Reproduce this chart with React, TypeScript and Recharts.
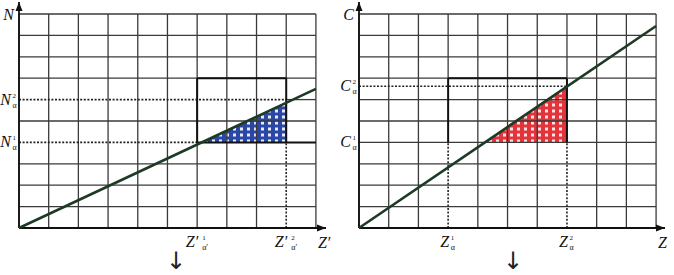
import { ComposedChart, Line, Area, XAxis, YAxis, ReferenceLine } from 'recharts';

// grid cells, 10 x 10 in both panels
const gridAll = [0, 1, 2, 3, 4, 5, 6, 7, 8, 9, 10];

// left panel: N against Z'
const leftLine = [{ z: 0, v: 0 }, { z: 10, v: 6.5 }];
const leftWedge = [{ z: 6.15, v: 4 }, { z: 9, v: 5.85 }];
const leftZ = [6, 9];          // Z'1, Z'2
const leftN = [4, 6];          // N1, N2
const leftBoxTop = 7;
const leftGridX = [0, 1, 2, 3, 4, 5, 6, 7, 8, 10];
const leftGridY = [0, 1, 2, 3, 5, 7, 8, 9, 10];
const leftXEnd = 10.34;

// right panel: C against Z
const rightLine = [{ z: 0, v: 0 }, { z: 10, v: 9.44 }];
const rightWedge = [{ z: 4.24, v: 4 }, { z: 7, v: 6.6 }];
const rightZ = [3, 7];         // Z1, Z2
const rightC = [4, 6.62];      // C1, C2
const rightBoxTop = 7;
const rightGridX = [0, 1, 2, 4, 5, 6, 8, 9, 10];
const rightXEnd = 10.3;

// axis arrows run a bit past the last grid line
const yTop = 10.56;
const gridMax = 10;

const FONT = '"Liberation Serif", "DejaVu Serif", serif';
const GRID = '#3a3a3a';
const BOLD = '#111';
const LINE = '#1d3a25';

const Sym = ({ x, y, main, sup, sub, anchor, size = 16, gap = 1.5 }: any) => {
  const mx = anchor === 'end' ? x - 8 : x + 1;
  return (
    <g fontFamily={FONT} fill="#111">
      <text x={mx} y={y} fontSize={size} fontStyle="italic" textAnchor="end">{main}</text>
      {sup && <text x={mx + gap} y={y - 7} fontSize={7}>{sup}</text>}
      {sub && <text x={mx + gap} y={y + 3} fontSize={8}>{sub}</text>}
    </g>
  );
};

const makeYTick = (labels: Record<string, any>) => (props: any) => {
  const { x, y, payload } = props;
  const l = labels[String(payload.value)];
  if (!l) return <g />;
  if (!l.sup) {
    return <text x={x - 5} y={y + 6} fontFamily={FONT} fontSize={16} fontStyle="italic" textAnchor="end" fill="#111">{l.main}</text>;
  }
  return <Sym x={x} y={y + 5} main={l.main} sup={l.sup} sub={l.sub} anchor="end" />;
};

const makeXTick = (labels: Record<string, any>) => (props: any) => {
  const { x, y, payload } = props;
  const l = labels[String(payload.value)];
  if (!l) return <g />;
  if (!l.sup) {
    return <text x={x + 2} y={y + 20} fontFamily={FONT} fontSize={16} fontStyle="italic" fill="#111">{l.main}</text>;
  }
  return <Sym x={x} y={y + 19} main={l.main} sup={l.sup} sub={l.sub} anchor="middle" gap={l.gap ?? 1.5} />;
};

// arrow head drawn as the end dot of an axis series
const makeHead = (dir: 'right' | 'up') => (p: any) => {
  const { cx, cy, index } = p;
  if (index !== 1 || cx == null || cy == null) return <g key={`h${index}`} />;
  const pts = dir === 'right'
    ? `${cx},${cy} ${cx - 9},${cy - 3.5} ${cx - 9},${cy + 3.5}`
    : `${cx},${cy} ${cx - 3.5},${cy + 9} ${cx + 3.5},${cy + 9}`;
  return <polygon key={`h${index}`} points={pts} fill="#111" />;
};

const Panel = ({ width, plotRight, lineData, wedge, gridX, gridY, xTicks, yTicks, xLabels, yLabels, patternId, refs, xEnd }: any) => (
  <ComposedChart width={width} height={275} margin={{ top: 2, right: width - plotRight, bottom: 17, left: 0 }}>
    <defs>
      <pattern id="bluePat" width="7" height="6" patternUnits="userSpaceOnUse">
        <rect width="7" height="6" fill="#2b47a6" />
        <rect x="2" y="1.5" width="3" height="3" fill="#e8ecf6" />
      </pattern>
      <pattern id="redPat" width="7" height="6" patternUnits="userSpaceOnUse">
        <rect width="7" height="6" fill="#e3343c" />
        <rect x="2" y="1.5" width="3" height="3" fill="#fbe3e3" />
      </pattern>
    </defs>
    <XAxis type="number" dataKey="z" domain={[0, xEnd]} ticks={xTicks} height={30} axisLine={false} tickLine={false}
      tickSize={0} tickMargin={0} interval={0} tick={makeXTick(xLabels)} />
    <YAxis type="number" dataKey="v" domain={[0, yTop]} ticks={yTicks} width={19} axisLine={false} tickLine={false}
      tickSize={0} tickMargin={0} interval={0} tick={makeYTick(yLabels)} />
    {/* grid, stopping at the last cell rather than the plot edge */}
    {gridX.map((g: number) => (
      <ReferenceLine key={`gx${g}`} segment={[{ x: g, y: 0 }, { x: g, y: gridMax }]} stroke={GRID} strokeWidth={1.3} ifOverflow="visible" />
    ))}
    {gridY.map((g: number) => (
      <ReferenceLine key={`gy${g}`} segment={[{ x: 0, y: g }, { x: gridMax, y: g }]} stroke={GRID} strokeWidth={1.3} ifOverflow="visible" />
    ))}
    <Area data={wedge} dataKey="v" type="linear" baseValue={4} fill={`url(#${patternId})`} fillOpacity={1} stroke="none" isAnimationActive={false} />
    {refs.map((r: any, i: number) => (
      <ReferenceLine key={i} segment={r.seg} stroke={r.dash ? '#222' : r.bold ? BOLD : GRID}
        strokeWidth={r.bold ? 2 : r.dash ? 1.6 : 1.3} strokeDasharray={r.dash ? '2 1.6' : undefined} ifOverflow="visible" />
    ))}
    <Line data={[{ z: 0, v: 0 }, { z: xEnd, v: 0 }]} dataKey="v" type="linear" stroke="#111" strokeWidth={1.8}
      dot={makeHead('right')} activeDot={false} isAnimationActive={false} />
    <Line data={[{ z: 0, v: 0 }, { z: 0, v: yTop }]} dataKey="v" type="linear" stroke="#111" strokeWidth={1.8}
      dot={makeHead('up')} activeDot={false} isAnimationActive={false} />
    <Line data={lineData} dataKey="v" type="linear" stroke={LINE} strokeWidth={2.6} dot={false} activeDot={false} isAnimationActive={false} />
  </ComposedChart>
);

const leftRefs = [
  { seg: [{ x: 0, y: leftN[0] }, { x: leftZ[0], y: leftN[0] }], dash: true },
  { seg: [{ x: leftZ[0], y: leftN[0] }, { x: 10, y: leftN[0] }], bold: true },
  { seg: [{ x: 0, y: leftN[1] }, { x: leftZ[1], y: leftN[1] }], dash: true },
  { seg: [{ x: leftZ[1], y: leftN[1] }, { x: 10, y: leftN[1] }] },
  { seg: [{ x: leftZ[1], y: 0 }, { x: leftZ[1], y: leftN[0] }], dash: true },
  { seg: [{ x: leftZ[1], y: leftBoxTop }, { x: leftZ[1], y: 10 }] },
  { seg: [{ x: leftZ[0], y: leftN[0] }, { x: leftZ[0], y: leftBoxTop }], bold: true },
  { seg: [{ x: leftZ[1], y: leftN[0] }, { x: leftZ[1], y: leftBoxTop }], bold: true },
  { seg: [{ x: leftZ[0], y: leftBoxTop }, { x: leftZ[1], y: leftBoxTop }], bold: true },
];

const rightRefs = [
  { seg: [{ x: 0, y: rightC[1] }, { x: rightZ[1], y: rightC[1] }], dash: true },
  { seg: [{ x: rightZ[0], y: 0 }, { x: rightZ[0], y: rightC[0] }], dash: true },
  { seg: [{ x: rightZ[1], y: 0 }, { x: rightZ[1], y: rightC[0] }], dash: true },
  { seg: [{ x: rightZ[0], y: rightBoxTop }, { x: rightZ[0], y: 10 }] },
  { seg: [{ x: rightZ[1], y: rightBoxTop }, { x: rightZ[1], y: 10 }] },
  { seg: [{ x: rightZ[0], y: rightC[0] }, { x: rightZ[0], y: rightBoxTop }], bold: true },
  { seg: [{ x: rightZ[1], y: rightC[0] }, { x: rightZ[1], y: rightBoxTop }], bold: true },
  { seg: [{ x: rightZ[0], y: rightBoxTop }, { x: rightZ[1], y: rightBoxTop }], bold: true },
];

const leftXLabels = { '6': { main: "Z′", sup: '1', sub: 'α′', gap: 4 }, '9': { main: "Z′", sup: '2', sub: 'α′', gap: 4 }, '10': { main: "Z′" } };
const leftYLabels = { '4': { main: 'N', sup: '1', sub: 'α' }, '6': { main: 'N', sup: '2', sub: 'α' }, '10': { main: 'N' } };
const rightXLabels = { '3': { main: 'Z', sup: '1', sub: 'α' }, '7': { main: 'Z', sup: '2', sub: 'α' }, '10': { main: 'Z' } };
const rightYLabels = { '4': { main: 'C', sup: '1', sub: 'α' }, '6.62': { main: 'C', sup: '2', sub: 'α' }, '10': { main: 'C' } };

export default function App() {
  const arrowStyle: any = { position: 'absolute', top: 250, fontFamily: '"DejaVu Sans", sans-serif', fontSize: 24, lineHeight: '22px', color: '#222' };
  return (
    <div style={{ position: 'absolute', left: 0, top: 0, width: 674, height: 275, background: '#fff', overflow: 'hidden' }}>
      <div style={{ position: 'absolute', left: 0, top: 0 }}>
        <Panel width={337} plotRight={326} lineData={leftLine} wedge={leftWedge} gridX={leftGridX} gridY={leftGridY}
          xTicks={[...leftZ, 10]} yTicks={[...leftN, 10]} xLabels={leftXLabels} yLabels={leftYLabels}
          patternId="bluePat" refs={leftRefs} xEnd={leftXEnd} />
      </div>
      <div style={{ position: 'absolute', left: 340, top: 0 }}>
        <Panel width={334} plotRight={325} lineData={rightLine} wedge={rightWedge} gridX={rightGridX} gridY={gridAll}
          xTicks={[...rightZ, 10]} yTicks={[...rightC, 10]} xLabels={rightXLabels} yLabels={rightYLabels}
          patternId="redPat" refs={rightRefs} xEnd={rightXEnd} />
      </div>
      <span style={{ ...arrowStyle, left: 166 }}>↓</span>
      <span style={{ ...arrowStyle, left: 503, top: 250 }}>↓</span>
    </div>
  );
}
